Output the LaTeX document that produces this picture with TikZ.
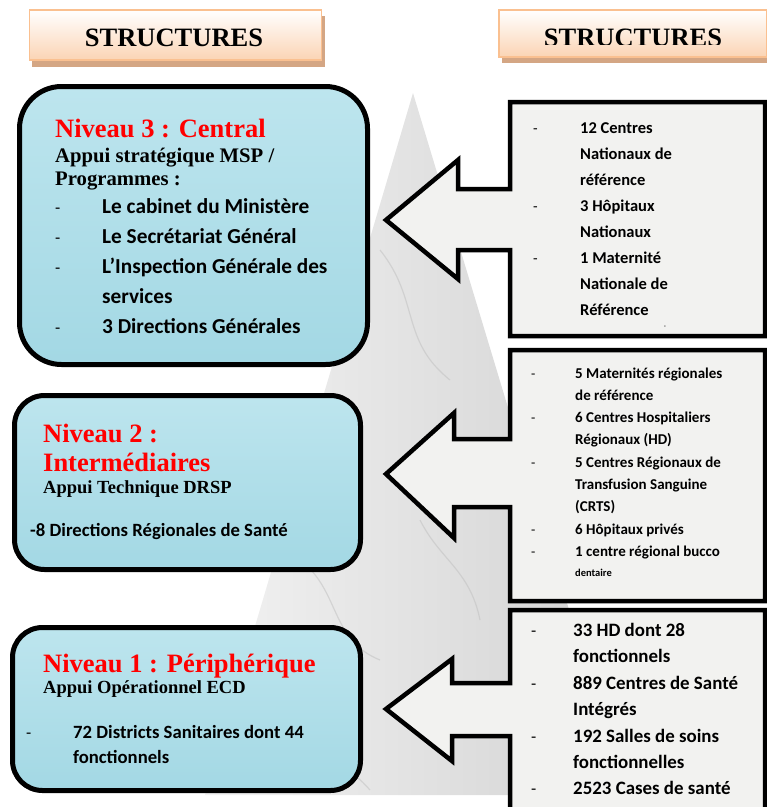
\documentclass[tikz,border=0pt]{standalone}
\usepackage{fontspec}
\setmainfont{Liberation Serif}
\newfontfamily\calibri{Carlito}
\usetikzlibrary{positioning}
\definecolor{peche}{HTML}{FBD4B4}
\definecolor{pechebord}{HTML}{FAC090}
\definecolor{ombre}{HTML}{D4A684}
\definecolor{eau}{HTML}{A3D8E4}
\definecolor{eauclair}{HTML}{BDE5EE}
\definecolor{marbre}{HTML}{D2D2D2}
\definecolor{granit}{HTML}{F2F2F0}

\begin{document}
\begin{tikzpicture}[x=1pt, y=-1pt,
		entete/.style={draw=pechebord, line width=1.5pt, top color=white, bottom color=peche},
		gros/.style={anchor=base, inner sep=0pt, font=\fontsize{26.5}{28}\selectfont\bfseries},
		niveau/.style={draw, line width=5pt, top color=eauclair, bottom color=eau},
		titre/.style={anchor=base west, inner sep=0pt, text=red, font=\fontsize{26.5}{28}\selectfont\bfseries},
		appui/.style={anchor=base west, inner sep=0pt, font=\fontsize{18.5}{20}\selectfont\bfseries},
		liste/.style={anchor=base west, inner sep=0pt, font=\calibri\bfseries\fontsize{18.7}{20}\selectfont},
		tiret/.style={anchor=base west, inner sep=0pt, font=\calibri\fontsize{17}{18}\selectfont},
		fleche/.style={draw, line width=4.5pt, fill=granit, line join=miter}]
	
	\useasboundingbox (0,0) rectangle (767,807);
	
	% Triangle de fond
	\shade[left color=gray!10, right color=marbre] (413,93) -- (205,795) -- (625,795) -- cycle;
	\begin{scope}[gray!50, line width=1.2pt, opacity=.5]
		\clip (413,93) -- (205,795) -- (625,795) -- cycle;
		\draw (380,250) .. controls (420,300) and (400,340) .. (450,380);
		\draw (300,560) .. controls (340,590) and (330,640) .. (380,660);
		\draw (420,520) .. controls (440,560) and (470,570) .. (480,620);
		\draw (250,740) .. controls (300,760) and (330,745) .. (370,790);
	\end{scope}
	
	% Entetes
	\fill[ombre] (32,16) rectangle (325,67);
	\fill[ombre] (502,16) rectangle (770,63);
	\node[entete, minimum width=292pt, minimum height=50pt] (h1) at (175.5,35) {};
	\node[entete, minimum width=268pt, minimum height=47pt] (h2) at (633,33.5) {};
	\node[gros] (s1) at (174,46) {STRUCTURES};
	\begin{scope}
		\clip (490,0) rectangle (767,44);
		\node[gros] (s2) at (633,46) {STRUCTURES};
	\end{scope}
	
	% Niveaux
	\node[niveau, rounded corners=42pt, minimum width=348pt, minimum height=278pt] (n3) at (193.5,225.5) {};
	\node[niveau, rounded corners=30pt, minimum width=346pt, minimum height=174pt] (n2) at (187.5,482.5) {};
	\node[niveau, rounded corners=30pt, minimum width=348pt, minimum height=163pt] (n1) at (186.5,709) {};
	
	% Niveau 3
	\node[titre] (t3) at (55,137) {Niveau 3 : Central};
	\node[appui, font=\fontsize{20.7}{22}\selectfont\bfseries] (a3) at (55,162.5) {Appui stratégique MSP /};
	\node[appui, font=\fontsize{20.7}{22}\selectfont\bfseries] (p3) at (55,185.5) {Programmes :};
	\foreach \txt [count=\i] in {Le cabinet du Ministère, Le Secrétariat Général,
		L’Inspection Générale des, services, 3 Directions Générales}
	\node[liste, font=\calibri\bfseries\fontsize{21.3}{22}\selectfont] (l3-\i) at (102,{213+30*(\i-1)}) {\txt};
	\foreach \i in {1,2,3,5}
	\node[tiret] (d3-\i) at (55,{213+30*(\i-1)}) {-};
	
	% Niveau 2
	\node[titre] (t2) at (43,442) {Niveau 2 :};
	\node[titre] (t2b) at (43,471) {Intermédiaires};
	\node[appui] (a2) at (43,493) {Appui Technique DRSP};
	\node[liste] (l2) at (30,536) {-8 Directions Régionales de Santé};
	
	% Niveau 1
	\node[titre] (t1) at (43,672) {Niveau 1 : Périphérique};
	\node[appui] (a1) at (43,693) {Appui Opérationnel ECD};
	\node[tiret] (d1) at (26,738) {-};
	\node[liste] (l1-1) at (73,738) {72 Districts Sanitaires dont 44};
	\node[liste] (l1-2) at (73,763) {fonctionnels};
	
	% Fleches
	\draw[fleche] (765,102) -- (510,102) -- (510,189) -- (458,189) -- (458,160) -- (386,220)
		-- (458,279) -- (458,250) -- (510,250) -- (510,336) -- (765,336) -- cycle;
	\draw[fleche] (765,350) -- (510,350) -- (510,439) -- (454,439) -- (454,413) -- (386,474)
		-- (454,538) -- (454,507) -- (510,507) -- (510,601) -- (765,601) -- cycle;
	\draw[fleche] (765,610) -- (510,610) -- (510,683) -- (452,683) -- (452,659) -- (386,709)
		-- (452,761) -- (452,736) -- (510,736) -- (510,830) -- (765,830) -- cycle;
	
	% Structures centrales
	\foreach \txt [count=\i] in {12 Centres, Nationaux de, référence, 3 Hôpitaux,
		Nationaux, 1 Maternité, Nationale de, Référence}
	\node[liste, font=\calibri\bfseries\fontsize{16.5}{18}\selectfont] (c1-\i) at (580,{133+26*(\i-1)}) {\txt};
	\foreach \i in {1,4,6}
	\node[tiret, font=\calibri\fontsize{15}{16}\selectfont] (e1-\i) at (533,{133+26*(\i-1)}) {-};
	\node[font=\calibri\fontsize{7}{8}\selectfont, inner sep=0pt] (m1) at (665,327) {-};
	
	% Structures regionales
	\foreach \txt [count=\i] in {5 Maternités régionales, de référence, 6 Centres Hospitaliers,
		Régionaux (HD), 5 Centres Régionaux de, Transfusion Sanguine, (CRTS), 6 Hôpitaux privés,
		1 centre régional bucco}
	\node[liste, font=\calibri\bfseries\fontsize{15}{16}\selectfont] (c2-\i) at (575,{378+22.3*(\i-1)}) {\txt};
	\node[liste, font=\calibri\bfseries\fontsize{10.5}{12}\selectfont] (c2-10) at (575,576.5) {dentaire};
	\foreach \i in {1,3,5,8,9}
	\node[tiret, font=\calibri\fontsize{14}{16}\selectfont] (e2-\i) at (531,{378+22.3*(\i-1)}) {-};
	
	% Structures peripheriques
	\foreach \txt [count=\i] in {33 HD dont 28, fonctionnels, 889 Centres de Santé, Intégrés,
		192 Salles de soins, fonctionnelles, 2523 Cases de santé}
	\node[liste, font=\calibri\bfseries\fontsize{18.9}{20}\selectfont] (c3-\i) at (573,{636.5+26.4*(\i-1)}) {\txt};
	\foreach \i in {1,3,5,7}
	\node[tiret] (e3-\i) at (531,{636.5+26.4*(\i-1)}) {-};
	
\end{tikzpicture}
\end{document}
